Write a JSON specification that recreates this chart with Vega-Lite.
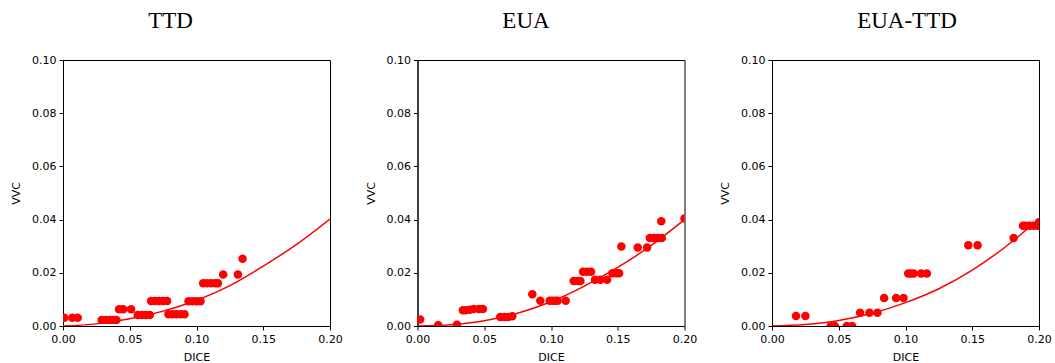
{
  "$schema": "https://vega.github.io/schema/vega-lite/v6.json",
  "background": "white",
  "padding": {"left": 10, "top": 9, "right": 5, "bottom": 5},
  "spacing": 87.5,
  "bounds": "flush",
  "config": {
    "view": {"stroke": "black", "strokeWidth": 1},
    "axis": {"labelFont": "DejaVu Sans", "labelFontSize": 11, "labelColor": "black", "titleFont": "DejaVu Sans", "titleFontSize": 11, "titleFontWeight": "normal", "titleColor": "black", "tickColor": "black", "tickSize": 4, "domainColor": "black", "grid": false, "labelPadding": 3, "labelFlush": false},
    "axisX": {"titlePadding": 7},
    "axisY": {"titlePadding": 10},
    "title": {"font": "Liberation Serif", "fontSize": 23, "fontWeight": "normal", "color": "black", "anchor": "middle", "frame": "group", "baseline": "alphabetic", "offset": 21}
  },
  "datasets": {
    "pts": [
      {"g": "TTD", "dice": 0.001, "vvc": 0.0031},
      {"g": "TTD", "dice": 0.007, "vvc": 0.0031},
      {"g": "TTD", "dice": 0.011, "vvc": 0.0031},
      {"g": "TTD", "dice": 0.029, "vvc": 0.0023},
      {"g": "TTD", "dice": 0.032, "vvc": 0.0023},
      {"g": "TTD", "dice": 0.035, "vvc": 0.0023},
      {"g": "TTD", "dice": 0.038, "vvc": 0.0023},
      {"g": "TTD", "dice": 0.040, "vvc": 0.0023},
      {"g": "TTD", "dice": 0.042, "vvc": 0.0063},
      {"g": "TTD", "dice": 0.045, "vvc": 0.0063},
      {"g": "TTD", "dice": 0.051, "vvc": 0.0063},
      {"g": "TTD", "dice": 0.056, "vvc": 0.0041},
      {"g": "TTD", "dice": 0.059, "vvc": 0.0041},
      {"g": "TTD", "dice": 0.062, "vvc": 0.0041},
      {"g": "TTD", "dice": 0.065, "vvc": 0.0041},
      {"g": "TTD", "dice": 0.066, "vvc": 0.0094},
      {"g": "TTD", "dice": 0.069, "vvc": 0.0094},
      {"g": "TTD", "dice": 0.072, "vvc": 0.0094},
      {"g": "TTD", "dice": 0.075, "vvc": 0.0094},
      {"g": "TTD", "dice": 0.078, "vvc": 0.0094},
      {"g": "TTD", "dice": 0.079, "vvc": 0.0044},
      {"g": "TTD", "dice": 0.082, "vvc": 0.0044},
      {"g": "TTD", "dice": 0.085, "vvc": 0.0044},
      {"g": "TTD", "dice": 0.088, "vvc": 0.0044},
      {"g": "TTD", "dice": 0.091, "vvc": 0.0044},
      {"g": "TTD", "dice": 0.094, "vvc": 0.0093},
      {"g": "TTD", "dice": 0.097, "vvc": 0.0093},
      {"g": "TTD", "dice": 0.100, "vvc": 0.0093},
      {"g": "TTD", "dice": 0.103, "vvc": 0.0093},
      {"g": "TTD", "dice": 0.105, "vvc": 0.0161},
      {"g": "TTD", "dice": 0.108, "vvc": 0.0161},
      {"g": "TTD", "dice": 0.111, "vvc": 0.0161},
      {"g": "TTD", "dice": 0.114, "vvc": 0.0161},
      {"g": "TTD", "dice": 0.116, "vvc": 0.0161},
      {"g": "TTD", "dice": 0.120, "vvc": 0.0194},
      {"g": "TTD", "dice": 0.131, "vvc": 0.0194},
      {"g": "TTD", "dice": 0.1345, "vvc": 0.0253},
      {"g": "EUA", "dice": 0.002, "vvc": 0.0024},
      {"g": "EUA", "dice": 0.0155, "vvc": 0.0003},
      {"g": "EUA", "dice": 0.0295, "vvc": 0.0005},
      {"g": "EUA", "dice": 0.034, "vvc": 0.0059},
      {"g": "EUA", "dice": 0.036, "vvc": 0.0059},
      {"g": "EUA", "dice": 0.039, "vvc": 0.0061},
      {"g": "EUA", "dice": 0.042, "vvc": 0.0064},
      {"g": "EUA", "dice": 0.046, "vvc": 0.0064},
      {"g": "EUA", "dice": 0.049, "vvc": 0.0064},
      {"g": "EUA", "dice": 0.062, "vvc": 0.0034},
      {"g": "EUA", "dice": 0.065, "vvc": 0.0034},
      {"g": "EUA", "dice": 0.068, "vvc": 0.0034},
      {"g": "EUA", "dice": 0.071, "vvc": 0.0037},
      {"g": "EUA", "dice": 0.086, "vvc": 0.0119},
      {"g": "EUA", "dice": 0.092, "vvc": 0.0095},
      {"g": "EUA", "dice": 0.099, "vvc": 0.0095},
      {"g": "EUA", "dice": 0.101, "vvc": 0.0095},
      {"g": "EUA", "dice": 0.103, "vvc": 0.0095},
      {"g": "EUA", "dice": 0.105, "vvc": 0.0095},
      {"g": "EUA", "dice": 0.111, "vvc": 0.0095},
      {"g": "EUA", "dice": 0.117, "vvc": 0.0169},
      {"g": "EUA", "dice": 0.120, "vvc": 0.0169},
      {"g": "EUA", "dice": 0.122, "vvc": 0.0169},
      {"g": "EUA", "dice": 0.124, "vvc": 0.0204},
      {"g": "EUA", "dice": 0.127, "vvc": 0.0204},
      {"g": "EUA", "dice": 0.130, "vvc": 0.0204},
      {"g": "EUA", "dice": 0.133, "vvc": 0.0174},
      {"g": "EUA", "dice": 0.137, "vvc": 0.0174},
      {"g": "EUA", "dice": 0.142, "vvc": 0.0174},
      {"g": "EUA", "dice": 0.146, "vvc": 0.0198},
      {"g": "EUA", "dice": 0.149, "vvc": 0.0198},
      {"g": "EUA", "dice": 0.151, "vvc": 0.0198},
      {"g": "EUA", "dice": 0.1527, "vvc": 0.0299},
      {"g": "EUA", "dice": 0.165, "vvc": 0.0295},
      {"g": "EUA", "dice": 0.172, "vvc": 0.0295},
      {"g": "EUA", "dice": 0.174, "vvc": 0.0331},
      {"g": "EUA", "dice": 0.177, "vvc": 0.0331},
      {"g": "EUA", "dice": 0.180, "vvc": 0.0331},
      {"g": "EUA", "dice": 0.183, "vvc": 0.0331},
      {"g": "EUA", "dice": 0.1826, "vvc": 0.0394},
      {"g": "EUA", "dice": 0.200, "vvc": 0.0404},
      {"g": "EUA-TTD", "dice": 0.018, "vvc": 0.0038},
      {"g": "EUA-TTD", "dice": 0.025, "vvc": 0.0038},
      {"g": "EUA-TTD", "dice": 0.044, "vvc": 0.0},
      {"g": "EUA-TTD", "dice": 0.047, "vvc": 0.0},
      {"g": "EUA-TTD", "dice": 0.056, "vvc": 0.0},
      {"g": "EUA-TTD", "dice": 0.060, "vvc": 0.0},
      {"g": "EUA-TTD", "dice": 0.066, "vvc": 0.005},
      {"g": "EUA-TTD", "dice": 0.073, "vvc": 0.005},
      {"g": "EUA-TTD", "dice": 0.079, "vvc": 0.005},
      {"g": "EUA-TTD", "dice": 0.084, "vvc": 0.0105},
      {"g": "EUA-TTD", "dice": 0.093, "vvc": 0.0105},
      {"g": "EUA-TTD", "dice": 0.0985, "vvc": 0.0105},
      {"g": "EUA-TTD", "dice": 0.102, "vvc": 0.0197},
      {"g": "EUA-TTD", "dice": 0.104, "vvc": 0.0197},
      {"g": "EUA-TTD", "dice": 0.106, "vvc": 0.0197},
      {"g": "EUA-TTD", "dice": 0.1117, "vvc": 0.0197},
      {"g": "EUA-TTD", "dice": 0.116, "vvc": 0.0197},
      {"g": "EUA-TTD", "dice": 0.147, "vvc": 0.0304},
      {"g": "EUA-TTD", "dice": 0.154, "vvc": 0.0304},
      {"g": "EUA-TTD", "dice": 0.181, "vvc": 0.0331},
      {"g": "EUA-TTD", "dice": 0.188, "vvc": 0.0377},
      {"g": "EUA-TTD", "dice": 0.190, "vvc": 0.0377},
      {"g": "EUA-TTD", "dice": 0.193, "vvc": 0.0377},
      {"g": "EUA-TTD", "dice": 0.196, "vvc": 0.0377},
      {"g": "EUA-TTD", "dice": 0.199, "vvc": 0.0377},
      {"g": "EUA-TTD", "dice": 0.200, "vvc": 0.039}
    ],
    "fit": [
      {"g": "TTD", "dice": 0.0, "vvc": 0.0},
      {"g": "TTD", "dice": 0.025, "vvc": 0.0008},
      {"g": "TTD", "dice": 0.05, "vvc": 0.0027},
      {"g": "TTD", "dice": 0.075, "vvc": 0.0056},
      {"g": "TTD", "dice": 0.1, "vvc": 0.0097},
      {"g": "TTD", "dice": 0.125, "vvc": 0.0152},
      {"g": "TTD", "dice": 0.15, "vvc": 0.0225},
      {"g": "TTD", "dice": 0.175, "vvc": 0.0307},
      {"g": "TTD", "dice": 0.2, "vvc": 0.0402},
      {"g": "EUA", "dice": 0.0, "vvc": 0.0},
      {"g": "EUA", "dice": 0.025, "vvc": 0.0005},
      {"g": "EUA", "dice": 0.05, "vvc": 0.002},
      {"g": "EUA", "dice": 0.075, "vvc": 0.0048},
      {"g": "EUA", "dice": 0.1, "vvc": 0.0091},
      {"g": "EUA", "dice": 0.125, "vvc": 0.015},
      {"g": "EUA", "dice": 0.15, "vvc": 0.022},
      {"g": "EUA", "dice": 0.175, "vvc": 0.0303},
      {"g": "EUA", "dice": 0.2, "vvc": 0.04},
      {"g": "EUA-TTD", "dice": 0.0, "vvc": 0.0},
      {"g": "EUA-TTD", "dice": 0.025, "vvc": 0.0006},
      {"g": "EUA-TTD", "dice": 0.05, "vvc": 0.0021},
      {"g": "EUA-TTD", "dice": 0.075, "vvc": 0.0048},
      {"g": "EUA-TTD", "dice": 0.1, "vvc": 0.0088},
      {"g": "EUA-TTD", "dice": 0.125, "vvc": 0.014},
      {"g": "EUA-TTD", "dice": 0.15, "vvc": 0.021},
      {"g": "EUA-TTD", "dice": 0.175, "vvc": 0.0298},
      {"g": "EUA-TTD", "dice": 0.2, "vvc": 0.0402}
    ]
  },
  "hconcat": [
    {
      "title": {"text": "TTD", "dx": -26},
      "width": 267, "height": 266,
      "layer": [
        {"data": {"name": "pts"}, "transform": [{"filter": "datum.g === 'TTD'"}],
         "mark": {"type": "circle", "color": "#ff0000", "size": 72, "opacity": 1, "clip": true},
         "encoding": {
           "x": {"field": "dice", "type": "quantitative", "title": "DICE", "scale": {"domain": [0, 0.2], "nice": false, "zero": false}, "axis": {"values": [0, 0.05, 0.1, 0.15, 0.2], "format": ".2f"}},
           "y": {"field": "vvc", "type": "quantitative", "title": "VVC", "scale": {"domain": [0, 0.1], "nice": false}, "axis": {"values": [0, 0.02, 0.04, 0.06, 0.08, 0.1], "format": ".2f"}}}},
        {"data": {"name": "fit"}, "transform": [{"filter": "datum.g === 'TTD'"}],
         "mark": {"type": "line", "color": "#ff0000", "strokeWidth": 1.5, "interpolate": "monotone", "clip": true},
         "encoding": {"x": {"field": "dice", "type": "quantitative"}, "y": {"field": "vvc", "type": "quantitative"}}}
      ]
    },
    {
      "title": {"text": "EUA", "dx": -25},
      "width": 267, "height": 266,
      "layer": [
        {"data": {"name": "pts"}, "transform": [{"filter": "datum.g === 'EUA'"}],
         "mark": {"type": "circle", "color": "#ff0000", "size": 72, "opacity": 1, "clip": true},
         "encoding": {
           "x": {"field": "dice", "type": "quantitative", "title": "DICE", "scale": {"domain": [0, 0.2], "nice": false, "zero": false}, "axis": {"values": [0, 0.05, 0.1, 0.15, 0.2], "format": ".2f"}},
           "y": {"field": "vvc", "type": "quantitative", "title": "VVC", "scale": {"domain": [0, 0.1], "nice": false}, "axis": {"values": [0, 0.02, 0.04, 0.06, 0.08, 0.1], "format": ".2f"}}}},
        {"data": {"name": "fit"}, "transform": [{"filter": "datum.g === 'EUA'"}],
         "mark": {"type": "line", "color": "#ff0000", "strokeWidth": 1.5, "interpolate": "monotone", "clip": true},
         "encoding": {"x": {"field": "dice", "type": "quantitative"}, "y": {"field": "vvc", "type": "quantitative"}}}
      ]
    },
    {
      "title": {"text": "EUA-TTD", "dx": 1.5},
      "width": 267, "height": 266,
      "layer": [
        {"data": {"name": "pts"}, "transform": [{"filter": "datum.g === 'EUA-TTD'"}],
         "mark": {"type": "circle", "color": "#ff0000", "size": 72, "opacity": 1, "clip": true},
         "encoding": {
           "x": {"field": "dice", "type": "quantitative", "title": "DICE", "scale": {"domain": [0, 0.2], "nice": false, "zero": false}, "axis": {"values": [0, 0.05, 0.1, 0.15, 0.2], "format": ".2f"}},
           "y": {"field": "vvc", "type": "quantitative", "title": "VVC", "scale": {"domain": [0, 0.1], "nice": false}, "axis": {"values": [0, 0.02, 0.04, 0.06, 0.08, 0.1], "format": ".2f"}}}},
        {"data": {"name": "fit"}, "transform": [{"filter": "datum.g === 'EUA-TTD'"}],
         "mark": {"type": "line", "color": "#ff0000", "strokeWidth": 1.5, "interpolate": "monotone", "clip": true},
         "encoding": {"x": {"field": "dice", "type": "quantitative"}, "y": {"field": "vvc", "type": "quantitative"}}}
      ]
    }
  ]
}
